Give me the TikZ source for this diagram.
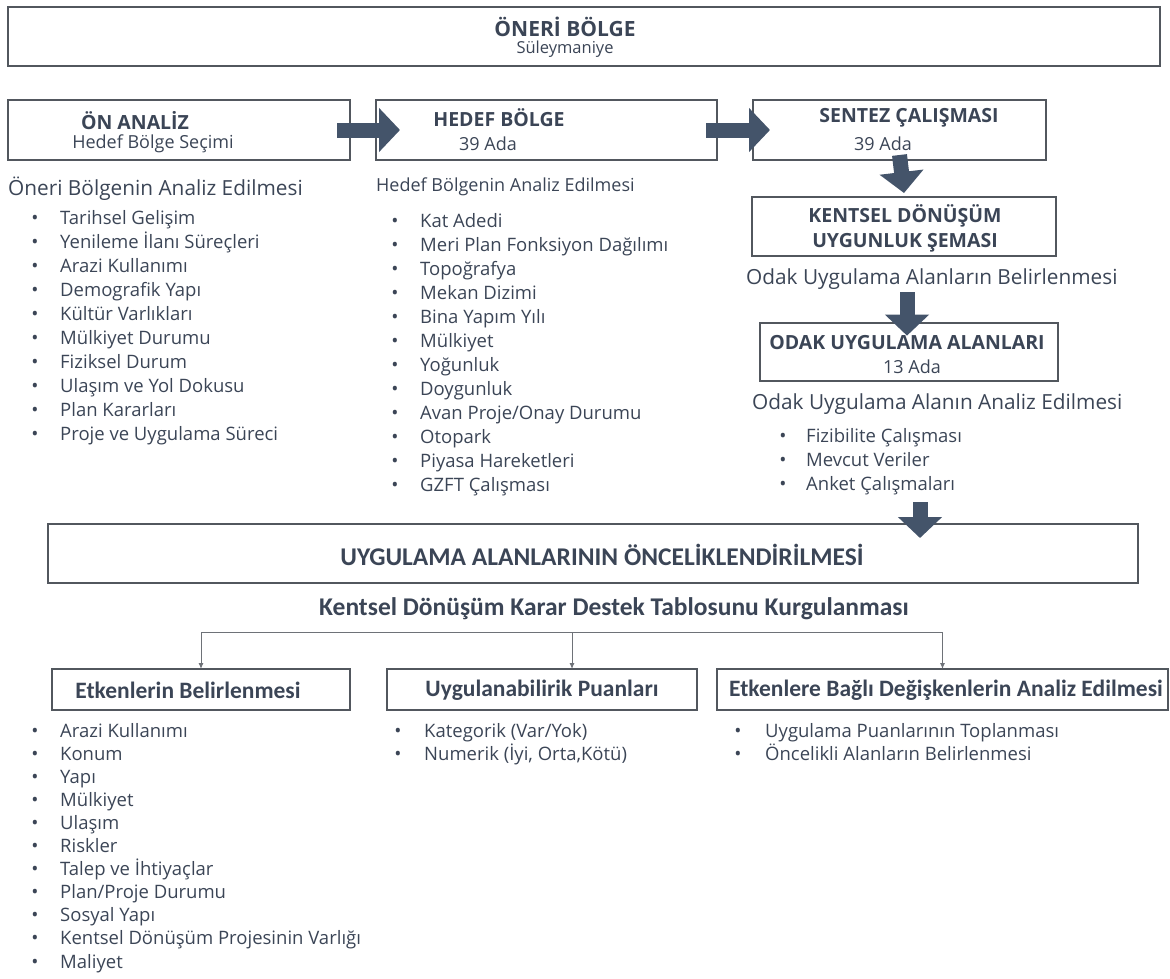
\documentclass[tikz,border=0pt]{standalone}
\usepackage{fontspec}
\setmainfont{Open Sans}
\newfontfamily\narrowFont{Carlito}
\usetikzlibrary{positioning,arrows.meta}
\tikzstyle{plan} = [x = 1pt, y = -1pt]
\definecolor{inkColor}{RGB}{59,69,86}
\definecolor{frameColor}{RGB}{82,87,94}
\definecolor{arrowColor}{RGB}{68,84,106}
\definecolor{wireColor}{RGB}{110,114,120}
\tikzstyle{frameStyle} = [draw=frameColor, line width=1.6pt, inner sep=0pt, outer sep=0pt]
\tikzstyle{headText} = [inkColor, font=\fontsize{19.5}{23}\selectfont\bfseries, inner sep=0pt]
\tikzstyle{subText} = [inkColor, font=\fontsize{18}{21}\selectfont, inner sep=0pt]
\tikzstyle{noteText} = [inkColor, font=\fontsize{20.8}{25}\selectfont, inner sep=0pt, anchor=west, text height=15pt, text depth=5pt]
\tikzstyle{listText} = [inkColor, font=\fontsize{18.5}{22}\selectfont, inner sep=0pt, anchor=west, text height=14pt, text depth=4pt]
\tikzstyle{dotText} = [inkColor, font=\fontsize{19}{22}\selectfont, inner sep=0pt, text height=14pt, text depth=4pt]
\tikzstyle{narrowHead} = [inkColor, font=\narrowFont\fontsize{25.5}{30}\selectfont\bfseries, inner sep=0pt]
\tikzstyle{boxHead} = [inkColor, font=\narrowFont\fontsize{23.5}{28}\selectfont\bfseries, inner sep=0pt]
\tikzstyle{blockArrow} = [arrowColor, line width=15pt, -{Triangle[length=21pt, width=43pt]}]
\tikzstyle{wireArrow} = [wireColor, line width=1pt, -{Latex[length=6pt, width=5pt]}]
\newcommand{\frameBox}[5]{\path (#2,#3) -- (#4,#5) node[midway, frameStyle, minimum width={#4pt-#2pt}, minimum height={#5pt-#3pt}] (#1) {};}
\newcommand{\bulletList}[6]{
  \foreach \itemText [count=\itemNo] in {#6} {
    \pgfmathsetmacro{\rowY}{#4 + #5 * (\itemNo - 1)}
    \node[dotText] (#1Dot\itemNo) at (#2, \rowY) {•};
    \node[listText] (#1Item\itemNo) at (#3, \rowY) {\itemText};
  }
}

\begin{document}
\begin{tikzpicture}[plan]
  \useasboundingbox (0,0) rectangle (1170,978);

  % top row
  \frameBox{oneriBox}{8}{7}{1160}{66}
  \node[headText, font=\fontsize{21}{25}\selectfont\bfseries] (oneriTitle) at (565,27) {ÖNERİ BÖLGE};
  \node[subText, font=\fontsize{16.5}{20}\selectfont] (oneriSub) at (565,49) {Süleymaniye};

  \frameBox{onAnalizBox}{8}{100}{350}{160}
  \node[headText] (onAnalizTitle) at (135,121) {ÖN ANALİZ};
  \node[subText] (onAnalizSub) at (153,144) {Hedef Bölge Seçimi};

  \frameBox{hedefBox}{376}{100}{717}{160}
  \node[headText] (hedefTitle) at (499,118) {HEDEF BÖLGE};
  \node[subText] (hedefSub) at (488,144) {39 Ada};

  \frameBox{sentezBox}{753}{100}{1046}{160}
  \node[headText] (sentezTitle) at (909,118) {SENTEZ ÇALIŞMASI};
  \node[subText] (sentezSub) at (883,144) {39 Ada};

  \draw[blockArrow] ([xshift=-13pt]onAnalizBox.east) -- ([xshift=24pt]hedefBox.west);
  \draw[blockArrow] ([xshift=-11pt]hedefBox.east) -- ([xshift=17pt]sentezBox.west);

  % right column
  \frameBox{kentselBox}{752}{197}{1056}{256}
  \node[headText] (kentselTitle) at (905,216) {KENTSEL DÖNÜŞÜM};
  \node[headText] (kentselSub) at (905,243) {UYGUNLUK ŞEMASI};
  \draw[blockArrow] ([yshift=5pt]sentezBox.south) -- ([yshift=4pt]kentselBox.north);

  \node[noteText] (odakNote) at (746,279) {Odak Uygulama Alanların Belirlenmesi};
  \coordinate (odakArrowTop) at (907,292);

  \frameBox{odakBox}{760}{323}{1058}{381}
  \node[headText] (odakTitle) at (907,343) {ODAK UYGULAMA ALANLARI};
  \node[subText] (odakSub) at (912,367) {13 Ada};
  \draw[blockArrow] (odakArrowTop) -- (odakArrowTop |- odakTitle.north);

  \node[noteText] (odakAnaliz) at (752,404) {Odak Uygulama Alanın Analiz Edilmesi};
  \bulletList{odakList}{783}{806}{437}{24}{Fizibilite Çalışması, Mevcut Veriler, Anket Çalışmaları}

  % left lists
  \node[noteText] (oneriNote) at (8,190) {Öneri Bölgenin Analiz Edilmesi};
  \bulletList{oneriList}{35}{60}{219}{24}{Tarihsel Gelişim, Yenileme İlanı Süreçleri, Arazi Kullanımı, Demografik Yapı, Kültür Varlıkları, Mülkiyet Durumu, Fiziksel Durum, Ulaşım ve Yol Dokusu, Plan Kararları, Proje ve Uygulama Süreci}

  \node[noteText, font=\fontsize{18}{22}\selectfont] (hedefNote) at (376,186) {Hedef Bölgenin Analiz Edilmesi};
  \bulletList{hedefList}{395}{420}{222}{24}{Kat Adedi, Meri Plan Fonksiyon Dağılımı, Topoğrafya, Mekan Dizimi, Bina Yapım Yılı, Mülkiyet, Yoğunluk, Doygunluk, Avan Proje/Onay Durumu, Otopark, Piyasa Hareketleri, GZFT Çalışması}

  % priority box
  \frameBox{oncelikBox}{48}{524}{1138}{583}
  \node[narrowHead] (oncelikTitle) at (602,555) {UYGULAMA ALANLARININ ÖNCELİKLENDİRİLMESİ};
  \coordinate (oncelikArrowTop) at (920,502);
  \draw[blockArrow] (oncelikArrowTop) -- ([yshift=-14pt]oncelikArrowTop |- oncelikBox.north);

  \node[narrowHead] (tabloTitle) at (614,609) {Kentsel Dönüşüm Karar Destek Tablosunu Kurgulanması};

  % decision table boxes
  \frameBox{etkenBox}{52}{669}{350}{710}
  \node[boxHead] (etkenTitle) at (188,690) {Etkenlerin Belirlenmesi};
  \frameBox{puanBox}{387}{669}{697}{710}
  \node[boxHead] (puanTitle) at (542,690) {Uygulanabilirik Puanları};
  \frameBox{degiskenBox}{717}{669}{1168}{710}
  \node[boxHead] (degiskenTitle) at (946,690) {Etkenlere Bağlı Değişkenlerin Analiz Edilmesi};

  \coordinate (tabloBar) at (572,632);
  \draw[wireColor, line width=1pt] (etkenBox.north |- tabloBar) -- (degiskenBox.north |- tabloBar);
  \draw[wireArrow] (etkenBox.north |- tabloBar) -- (etkenBox.north);
  \draw[wireArrow] (tabloBar) -- (tabloBar |- puanBox.north);
  \draw[wireArrow] (degiskenBox.north |- tabloBar) -- (degiskenBox.north);

  \bulletList{etkenList}{35}{60}{732}{23.1}{Arazi Kullanımı, Konum, Yapı, Mülkiyet, Ulaşım, Riskler, Talep ve İhtiyaçlar, Plan/Proje Durumu, Sosyal Yapı, Kentsel Dönüşüm Projesinin Varlığı, Maliyet}
  \bulletList{puanList}{398}{424}{732}{23.1}{Kategorik (Var/Yok), {Numerik (İyi, Orta,Kötü)}}
  \bulletList{degiskenList}{738}{765}{732}{23.1}{Uygulama Puanlarının Toplanması, Öncelikli Alanların Belirlenmesi}
\end{tikzpicture}
\end{document}
